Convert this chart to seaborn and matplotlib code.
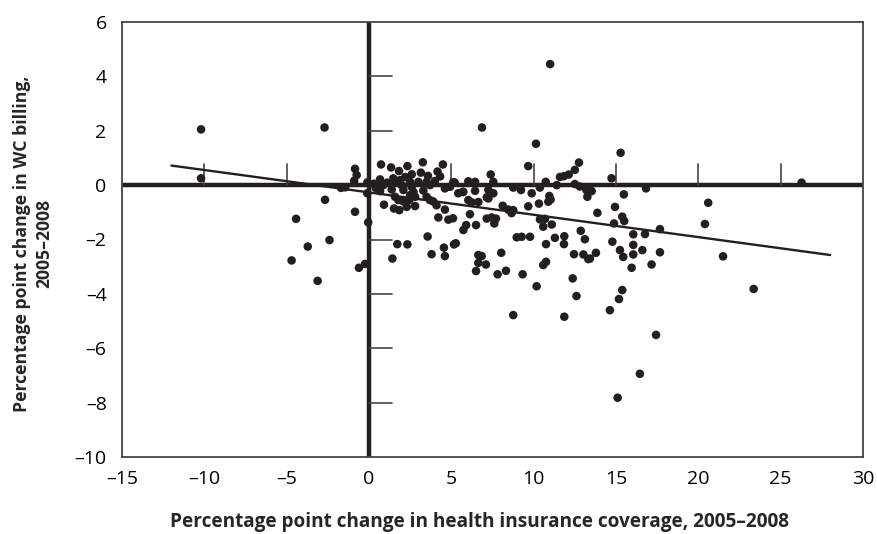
import matplotlib
matplotlib.use("Agg")
import matplotlib.pyplot as plt
import seaborn as sns
import pandas as pd
import numpy as np

# ---- data ----
insurance_change = [
    -10.2, -2.7, -10.2, -0.85, -0.75, -0.9, -1.7, -1.45, -0.1, -0.1, -2.67, -0.85, -4.43, -0.05,
    -2.4, -3.72, -4.7, -3.12, -0.61, -0.24,
    0.73, 1.34, 1.82, 2.33, 3.27, 3.15, 3.58, 4.49, 4.16, 4.32,
    0.67, 0.87, 0.67, 1.11, 1.48, 1.6, 1.38, 1.88, 1.98, 2.09, 2.49, 2.59, 2.7, 2.8, 2.49,
    3.0, 3.5, 3.7, 4.61, 4.92, 5.2, 5.12, 1.58, 1.78, 2.09, 0.91, 1.52, 1.84, 2.29, 2.8,
    3.5, 3.7, 3.9, 4.1, 4.61, 4.21, 4.82, 5.1, 5.42, 5.73, 0.3, 0.4, 2.2, 2.6, 3.3, 4.0, 2.45,
    1.42, 1.72, 2.33, 3.56, 3.8, 4.55, 4.61, 5.27, 5.16,
    6.86, 10.14, 11.0, 9.67, 7.39, 7.55, 6.03, 6.44, 5.69, 6.44, 7.25, 7.55, 7.25, 6.03, 6.23,
    6.64, 8.76, 9.17, 9.23, 9.88, 10.38, 10.73, 10.32, 9.67, 10.95, 11.03, 10.89, 8.12, 8.46,
    8.76, 8.66, 6.13, 7.15, 7.45, 7.71, 7.61, 10.38, 10.69, 11.4, 11.6, 11.84, 12.13, 12.5,
    12.75, 12.5, 12.8, 13.2, 13.52, 13.26, 7.15, 5.9, 5.73, 6.5,
    8.97, 9.27, 9.78, 10.58, 11.1, 10.75, 11.29, 11.86, 11.84, 12.86, 13.11, 12.45, 13.02,
    13.32, 6.64, 6.84, 6.64, 7.1, 6.5, 8.03, 7.81, 8.32, 9.33, 10.18, 10.58, 10.75, 12.37,
    12.6, 8.76, 11.86,
    15.28, 14.73, 16.82, 15.48, 14.94, 13.87, 15.38, 15.5, 14.88, 20.6, 20.4, 26.27, 17.67,
    16.05, 16.76, 14.78, 15.24, 15.44, 16.05, 16.05, 16.6, 15.95, 13.78, 13.42, 17.16, 17.67,
    15.38, 15.18, 14.63, 17.43, 16.45, 15.1, 21.5, 23.36,
]
wc_billing_change = [
    2.05, 2.12, 0.25, 0.6, 0.37, 0.16, -0.1, -0.08, 0.1, -0.3, -0.54, -0.98, -1.24, -1.37,
    -2.02, -2.26, -2.77, -3.52, -3.04, -2.9,
    0.76, 0.65, 0.52, 0.7, 0.84, 0.46, 0.34, 0.76, 0.5, 0.32,
    0.21, 0.0, -0.22, 0.09, 0.25, 0.1, -0.16, 0.18, 0.0, -0.18, 0.12, -0.06, -0.25, -0.43, -0.37,
    0.12, 0.12, 0.0, -0.12, -0.06, 0.1, 0.1, -0.43, -0.55, -0.6, -0.72, -0.86, -0.92, -0.8, -0.77,
    -0.43, -0.55, -0.6, -0.74, -0.9, -1.19, -1.27, -1.22, -0.3, -0.25, 0.05, -0.1, 0.3, 0.4, -0.2, 0.15, -0.55,
    -2.7, -2.17, -2.18, -1.89, -2.54, -2.3, -2.61, -2.14, -2.18,
    2.12, 1.52, 4.45, 0.7, 0.39, 0.12, 0.14, 0.12, -0.25, -0.21, -0.18, -0.3, -0.49, -0.55, -0.63,
    -0.62, -0.09, -0.09, -0.18, -0.3, -0.09, 0.12, -0.68, -0.78, -0.4, -0.53, -0.61, -0.76, -0.9,
    -0.92, -1.03, -1.07, -1.23, -1.19, -1.23, -1.41, -1.26, -1.24, 0.0, 0.3, 0.33, 0.39, 0.56,
    0.83, 0.04, -0.05, -0.18, -0.22, -0.43, -0.45, -1.47, -1.65, -1.47,
    -1.92, -1.9, -1.9, -1.53, -1.45, -2.17, -1.94, -1.88, -2.17, -1.68, -1.99, -2.54, -2.55,
    -2.72, -2.57, -2.61, -2.86, -2.92, -3.16, -2.49, -3.28, -3.15, -3.28, -3.72, -2.94, -2.82, -3.43,
    -4.08, -4.78, -4.84,
    1.19, 0.25, -0.12, -0.34, -0.8, -1.02, -1.16, -1.32, -1.41, -0.65, -1.43, 0.09, -1.62,
    -1.81, -1.8, -2.08, -2.39, -2.64, -2.2, -2.55, -2.39, -3.04, -2.49, -2.7, -2.92, -2.47,
    -3.86, -4.19, -4.6, -5.51, -6.94, -7.82, -2.62, -3.82,
]
fit_x = [-12.0, 28.0]
fit_y = [0.72, -2.57]

x_ticks = [-15, -10, -5, 0, 5, 10, 15, 20, 25, 30]
y_ticks = [-10, -8, -6, -4, -2, 0, 2, 4, 6]
x_label = "Percentage point change in health insurance coverage, 2005\u20132008"
y_label = "Percentage point change in WC billing,\n2005\u20132008"

df = pd.DataFrame({"x": insurance_change, "y": wc_billing_change})
fit = pd.DataFrame({"x": fit_x, "y": fit_y})

sns.set_style("white")
plt.rcParams["font.family"] = ["Open Sans", "DejaVu Sans"]

fig = plt.figure(figsize=(8.77, 5.34), dpi=100)
ax = fig.add_axes([122 / 877, 1 - 457 / 534, (863 - 122) / 877, (457 - 22) / 534])

ink = "#231f20"
# zero axes
ax.axhline(0, color=ink, lw=3.2, zorder=2)
ax.axvline(0, color=ink, lw=3.2, zorder=2)
# tick marks on the zero axes
for xv in x_ticks:
    if xv not in (x_ticks[0], 0, x_ticks[-1]):
        ax.plot([xv, xv], [0, 0.78], color="#444444", lw=1.2, zorder=2)
for yv in y_ticks:
    if yv not in (y_ticks[0], 0, y_ticks[-1]):
        ax.plot([0, 1.4], [yv, yv], color="#444444", lw=1.2, zorder=2)

sns.scatterplot(data=df, x="x", y="y", ax=ax, color=ink, s=38, edgecolor="none",
                zorder=3, legend=False)
sns.lineplot(data=fit, x="x", y="y", ax=ax, color=ink, lw=1.7, zorder=4)

ax.set_xlim(-15, 30)
ax.set_ylim(-10, 6)
ax.set_xticks(x_ticks)
ax.set_yticks(y_ticks)
ax.set_xticklabels([str(v).replace("-", "\u2013") for v in x_ticks])
ax.set_yticklabels([str(v).replace("-", "\u2013") for v in y_ticks])
ax.tick_params(axis="both", length=0, labelsize=14, colors="black")
ax.tick_params(axis="x", pad=9)
ax.tick_params(axis="y", pad=11)

for sp in ax.spines.values():
    sp.set_color("#444444")
    sp.set_linewidth(1.3)

ax.set_xlabel(x_label, fontsize=13.7, fontweight="bold")
ax.xaxis.set_label_coords(0.483, -0.15)
ax.xaxis.label.set_va("center")
ax.set_ylabel(y_label, fontsize=12.7, fontweight="bold", linespacing=1.3)
ax.yaxis.set_label_coords(-0.12, 0.49)
ax.yaxis.label.set_va("center")

fig.savefig("out.png", dpi=100)
